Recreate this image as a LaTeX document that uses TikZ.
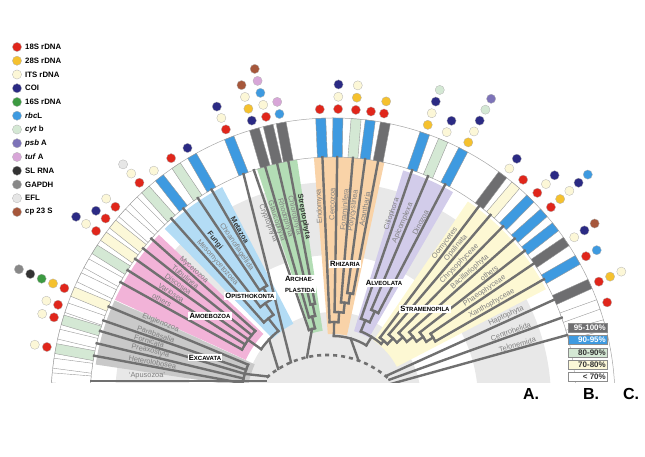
\documentclass[tikz,border=0pt]{standalone}
\usepackage{fontspec}
\setmainfont{Liberation Sans}
\usetikzlibrary{positioning}

% marker colours
\definecolor{mkR}{HTML}{E0261B}
\definecolor{mkY}{HTML}{F5C12E}
\definecolor{mkI}{HTML}{FCF7D7}
\definecolor{mkN}{HTML}{2B2A84}
\definecolor{mkG}{HTML}{3C9A41}
\definecolor{mkB}{HTML}{3E9AE0}
\definecolor{mkC}{HTML}{D4E8D4}
\definecolor{mkP}{HTML}{7D73B8}
\definecolor{mkT}{HTML}{D8A6D8}
\definecolor{mkS}{HTML}{333333}
\definecolor{mkA}{HTML}{888888}
\definecolor{mkE}{HTML}{E6E6E6}
\definecolor{mkW}{HTML}{A6573B}
% coverage colours
\definecolor{barA}{HTML}{6E6E70}
\definecolor{barB}{HTML}{3E9AE0}
\definecolor{barC}{HTML}{D4E8D4}
\definecolor{barD}{HTML}{FCF8D8}
% clade colours
\definecolor{bgGrey}{HTML}{E8E8E8}
\definecolor{bgExc}{HTML}{C9C9C9}
\definecolor{bgAmo}{HTML}{F2B3D8}
\definecolor{bgOpi}{HTML}{B3DCF5}
\definecolor{bgArc}{HTML}{B3DDB5}
\definecolor{bgRhi}{HTML}{F9D3A8}
\definecolor{bgAlv}{HTML}{D2CCEA}
\definecolor{bgStr}{HTML}{FDF8D3}
\definecolor{treegrey}{HTML}{707070}
\definecolor{labgrey}{HTML}{808080}

\tikzset{
  branch/.style={draw=treegrey, line width=2.4pt, line cap=rect},
  backbone/.style={draw=treegrey, line width=2.6pt, dash pattern=on 4pt off 4pt},
  ringarc/.style={draw=black!35, line width=0.5pt},
  cellbox/.style={draw=black!40, line width=0.4pt},
  markdot/.style={draw=black!30, line width=0.3pt},
  leaflab/.style={font=\fontsize{7.4}{8}\selectfont, text=labgrey, inner sep=1.4pt},
  boldlab/.style={text=black!80, font=\fontsize{7.4}{8}\selectfont\bfseries},
  cladelab/.style={fill=white, inner sep=1.3pt, font=\bfseries, align=left},
  keytext/.style={font=\fontsize{7.8}{9}\selectfont\bfseries, anchor=west, inner sep=0pt},
  scalebox/.style={draw=black!45, line width=0.4pt},
  panel/.style={font=\fontsize{16}{18}\selectfont\bfseries}
}
\newcommand\cellbar[2]{\draw[cellbox, fill=#2, rotate=#1] (243,-5) rectangle (282,5);}
\newcommand\markcol[2]{\foreach \mc [count=\mk from 0] in {#2}
  {\filldraw[markdot, fill=\mc] (#1:{291+12.3*\mk}) circle[radius=4.6];}}
\newcommand\wedgeband[5]{\fill[#1] (#2:#4) arc[start angle=#2, end angle=#3, radius=#4]
  -- (#3:#5) arc[start angle=#3, end angle=#2, radius=#5] -- cycle;}
\newcommand\clarc[3]{\draw[branch] (#1:#3) arc[start angle=#1, end angle=#2, radius=#3];}
\newcommand\cladename[2]{{\fontsize{7.6}{8}\selectfont #1}{\fontsize{6}{7}\selectfont #2}}
\newcommand\leftlab[4][]{\node[leaflab, anchor=south west, rotate=#3-180, #1] (#2) at (#3:210) {#4};}
\newcommand\rightlab[4][]{\node[leaflab, anchor=south east, rotate=#3, #1] (#2) at (#3:213) {#4};}

\begin{document}
\begin{tikzpicture}[x=1pt,y=1pt]
\useasboundingbox (0,0) rectangle (645,457);

% marker key
\foreach \c/\t [count=\i from 0] in {mkR/18S rDNA, mkY/28S rDNA, mkI/ITS rDNA, mkN/COI,
  mkG/16S rDNA, mkB/\textit{rbc}L, mkC/\textit{cyt} b, mkP/\textit{psb} A, mkT/\textit{tuf} A,
  mkS/SL RNA, mkA/GAPDH, mkE/EFL, mkW/cp 23 S} {
  \filldraw[markdot, fill=\c] (17,{410-13.75*\i}) circle[radius=4.6];
  \node[keytext] (key\i) at (25,{410-13.75*\i}) {\t};
}

\begin{scope}[shift={(333,57)}]
\begin{scope}
\clip (-340,17) rectangle (320,420);
% backgrounds
\fill[bgGrey] (0,0) circle[radius=88];
\wedgeband{bgGrey}{0}{180}{145}{218}
\wedgeband{bgExc}{155.5}{171.5}{86}{240}
\wedgeband{bgAmo}{136.5}{155.3}{96}{240}
\wedgeband{bgOpi}{117.5}{134.5}{86}{240}
\wedgeband{bgArc}{98.5}{108.2}{70}{243}
\wedgeband{bgRhi}{77.8}{94.5}{66}{243}
\wedgeband{bgAlv}{60}{73}{72}{240}
\wedgeband{bgStr}{27.5}{55.8}{72}{240}

% ring
\draw[ringarc] (0:243) arc[start angle=0, end angle=180, radius=243];
\draw[ringarc] (0:282) arc[start angle=0, end angle=180, radius=282];
\foreach \a/\f in {175.5/white, 172.5/white, 169.5/barC, 166.5/white, 163.5/barC,
  160.9/white, 157.4/barD, 154.2/white, 151/white, 147.7/barC, 144.5/barD, 141.4/barD,
  138.4/white, 135/white, 131.7/barC, 128/barB, 123.8/barC, 120/barB, 111.6/barB,
  106.2/barA, 103.3/barA, 100.6/barA, 92.5/barB, 89/barB, 85.3/barC, 82.4/barB,
  79.3/barA, 71/barB, 67/barC, 62.5/barB, 53/barA, 49.6/barD, 45.6/barB, 41.6/barB,
  37.9/barB, 34.2/barA, 29.8/barB, 24.3/barA, 19.8/white, 15.5/white}
  {\cellbar{\a}{\f}}

% backbone
\coordinate (bbExc) at (-65.1,23.5);
\coordinate (bbAmo) at (-54.8,31.0);
\coordinate (bbCry) at (-42,37.7);
\coordinate (bbArc) at (-26,42.8);
\coordinate (bbSar) at (25.5,39.5);
\draw[backbone] (-6,-47) ++(131:92) arc[start angle=131, end angle=48, radius=92];

% Apusozoa
\draw[branch] (-242,19) -- (-67,19);
% Excavata
\foreach \a in {169.5,166.5,163.5,160.9,157.4} \draw[branch] (\a:243) -- (\a:92);
\clarc{157.4}{169.5}{92}
\draw[branch] (163.5:92) -- (bbExc);
% Amoebozoa
\foreach \a in {151,147.7,144.5,141.4,138.4} \draw[branch] (\a:243) -- (\a:104);
\clarc{138.4}{151}{104}
\draw[branch] (144.7:104) -- (144.7:88);
% Opisthokonta
\draw[branch] (120:243) -- (120:132);
\draw[branch] (123.8:243) -- (123.8:132);
\clarc{120}{123.8}{132}
\draw[branch] (121.9:132) -- (121.9:118);
\draw[branch] (128:243) -- (128:118);
\clarc{121.9}{128}{118}
\draw[branch] (125:118) -- (125:104);
\draw[branch] (131.7:243) -- (131.7:104);
\clarc{125}{131.7}{104}
\draw[branch] (128.4:104) -- (128.4:88);
\clarc{128.4}{144.7}{88}
\draw[branch] (136.5:88) -- (bbAmo);
% Cryptophyta
\draw[branch] (111.6:243) -- (bbCry);
% Archaeplastida
\draw[branch] (100.6:243) -- (100.6:98);
\draw[branch] (103.3:243) -- (103.3:98);
\clarc{100.6}{103.3}{98}
\draw[branch] (102:98) -- (102:86);
\draw[branch] (106.2:243) -- (106.2:86);
\clarc{102}{106.2}{86}
\draw[branch] (104.1:86) -- (104.1:74);
\draw[branch] (109:243) -- (109:74);
\clarc{104.1}{109}{74}
\draw[branch] (106.5:74) -- (bbArc);
% Rhizaria
\draw[branch] (79.3:243) -- (79.3:108);
\draw[branch] (82.4:243) -- (82.4:108);
\clarc{79.3}{82.4}{108}
\draw[branch] (80.85:108) -- (80.85:98);
\draw[branch] (85.3:243) -- (85.3:98);
\clarc{80.85}{85.3}{98}
\draw[branch] (83.1:98) -- (83.1:88);
\draw[branch] (89:243) -- (89:88);
\clarc{83.1}{89}{88}
\draw[branch] (86:88) -- (86:78);
\draw[branch] (92.5:243) -- (92.5:78);
\clarc{86}{92.5}{78}
\draw[branch] (89.2:78) -- (89.2:64);
% Alveolata
\draw[branch] (62.5:243) -- (62.5:98);
\draw[branch] (67:243) -- (67:98);
\clarc{62.5}{67}{98}
\draw[branch] (64.75:98) -- (64.75:86);
\draw[branch] (71:243) -- (71:86);
\clarc{64.75}{71}{86}
\draw[branch] (67.9:86) -- (67.9:74);
% Stramenopila
\draw[branch] (29.8:243) -- (29.8:118);
\draw[branch] (34.2:243) -- (34.2:118);
\clarc{29.8}{34.2}{118}
\draw[branch] (32:118) -- (32:110);
\draw[branch] (37.9:243) -- (37.9:110);
\clarc{32}{37.9}{110}
\draw[branch] (35:110) -- (35:102);
\draw[branch] (41.6:243) -- (41.6:102);
\clarc{35}{41.6}{102}
\draw[branch] (38.3:102) -- (38.3:94);
\draw[branch] (45.6:243) -- (45.6:94);
\clarc{38.3}{45.6}{94}
\draw[branch] (42:94) -- (42:86);
\draw[branch] (49.6:243) -- (49.6:86);
\clarc{42}{49.6}{86}
\draw[branch] (45.8:86) -- (45.8:78);
\draw[branch] (53:243) -- (53:78);
\clarc{45.8}{53}{78}
\draw[branch] (49.4:78) -- (49.4:74);
\clarc{49.4}{67.9}{74}
\draw[branch] (58.6:74) -- (58.6:64);
\clarc{58.6}{89.2}{64}
\draw[branch] (74:64) -- (bbSar);
% Haptophyta, Centrohelida, Telonemida
\foreach \a in {24.4,19.8,15.5} \draw[branch] (\a:243) -- (\a:60);
\end{scope}

% markers
\markcol{169.5}{mkR,mkI}
\markcol{163.5}{mkR,mkI}
\markcol{160.9}{mkR,mkI}
\markcol{157.4}{mkR,mkY,mkG,mkS,mkA}
\markcol{144.5}{mkR,mkI,mkN}
\markcol{141.4}{mkR,mkN}
\markcol{138.4}{mkR,mkI}
\markcol{131.7}{mkR,mkI,mkE}
\markcol{128}{mkI}
\markcol{123.8}{mkR}
\markcol{120}{mkN}
\markcol{111.6}{mkR,mkI,mkN}
\markcol{106.2}{mkN,mkY,mkI,mkW}
\markcol{103.3}{mkR,mkI,mkB,mkT,mkW}
\markcol{100.6}{mkB,mkT}
\markcol{92.6}{mkR}
\markcol{89}{mkR,mkI,mkN}
\markcol{85.5}{mkR,mkY,mkI}
\markcol{82.5}{mkR}
\markcol{79.9}{mkR,mkY}
\markcol{71}{mkY,mkI,mkN,mkC}
\markcol{67}{mkI,mkN}
\markcol{62.3}{mkY,mkI,mkN,mkC,mkP}
\markcol{52.7}{mkI,mkN}
\markcol{49.2}{mkR}
\markcol{45.4}{mkR,mkI,mkN}
\markcol{41.5}{mkR,mkY,mkI,mkN,mkB}
\markcol{34}{mkI,mkN,mkW}
\markcol{29.6}{mkR,mkB}
\markcol{24}{mkR,mkY,mkI}
\markcol{19.6}{mkR}

% leaf names
\node[leaflab, anchor=south] (apusozoa) at (-186,19) {`Apusozoa'};
\leftlab{hetero}{169.5}{Heterolobosea}
\leftlab{preax}{166.5}{Preaxostyla}
\leftlab{fornic}{163.5}{Fornicata}
\leftlab{parab}{160.9}{Parabasalia}
\leftlab{euglen}{157.4}{Euglenozoa}
\leftlab{amoeoth}{151}{others}
\leftlab{varios}{147.7}{Variosea}
\leftlab{discos}{144.5}{Discosea}
\leftlab{tubul}{141.4}{Tubulinea}
\leftlab{myceto}{138.4}{Mycetozoa}
\leftlab{mesomy}{131.7}{Mesomycetozoea}
\leftlab[boldlab]{fungi}{128}{Fungi}
\leftlab{choano}{123.8}{Choanoflagellida}
\leftlab[boldlab]{metaz}{120}{Metazoa}
\leftlab{crypto}{111.6}{Cryptophyta}
\leftlab{glauco}{109}{Glaucophyta}
\leftlab{rhodo}{106.2}{Rhodophyta}
\leftlab{chloro}{103.3}{Chlorophyta}
\leftlab[boldlab]{strepto}{100.6}{Streptophyta}
\rightlab{endom}{92.5}{Endomyxa}
\rightlab{cercoz}{89}{Cercozoa}
\rightlab{foram}{85.3}{Foraminifera}
\rightlab{polyc}{82.4}{Polycystinea}
\rightlab{acanth}{79.3}{Acantharia}
\rightlab{cilio}{71}{Ciliophora}
\rightlab{apicom}{67}{Apicomplexa}
\rightlab{dinoz}{62.5}{Dinozoa}
\rightlab{oomy}{53}{Oomycetes}
\rightlab{opal}{49.6}{Opalinata}
\rightlab{chryso}{45.6}{Chrysophyceae}
\rightlab{bacill}{41.6}{Bacillariophyta}
\rightlab{strothers}{37.9}{others}
\rightlab{phaeo}{34.2}{Phaeophyceae}
\rightlab{xantho}{29.8}{Xanthophyceae}
\rightlab{hapto}{24.4}{Haptophyta}
\rightlab{centro}{19.8}{Centrohelida}
\rightlab{telon}{15.5}{Telonemida}

% clade names
\node[cladelab] (excavata) at (-128,42.5) {\cladename{E}{XCAVATA}};
\node[cladelab] (amoebozoa) at (-123,84) {\cladename{A}{MOEBOZOA}};
\node[cladelab] (opistho) at (-83,104) {\cladename{O}{PISTHOKONTA}};
\node[cladelab] (archae) at (-33,116) {\cladename{A}{RCHAE-}\\[-1pt]{\fontsize{6}{7}\selectfont PLASTIDA}};
\node[cladelab] (rhizaria) at (12,136) {\cladename{R}{HIZARIA}};
\node[cladelab] (alveolata) at (51,117) {\cladename{A}{LVEOLATA}};
\node[cladelab] (stramen) at (92,91) {\cladename{S}{TRAMENOPILA}};
\end{scope}

% coverage key
\foreach \t/\f/\c [count=\i from 0] in {95-100\%/barA/white, 90-95\%/barB/white,
  80-90\%/barC/black!80, 70-80\%/barD/black!80, < 70\%/white/black!80} {
  \draw[scalebox, fill=\f] (568,{125-12.4*\i}) rectangle (607,{134-12.4*\i});
  \node[anchor=east, inner sep=0pt, text=\c, font=\fontsize{8}{9}\selectfont\bfseries]
    (cov\i) at (606,{129.5-12.4*\i}) {\t};
}

% panel letters
\node[panel] (panA) at (531,63) {A.};
\node[panel] (panB) at (591,63) {B.};
\node[panel] (panC) at (631,63) {C.};
\end{tikzpicture}
\end{document}
